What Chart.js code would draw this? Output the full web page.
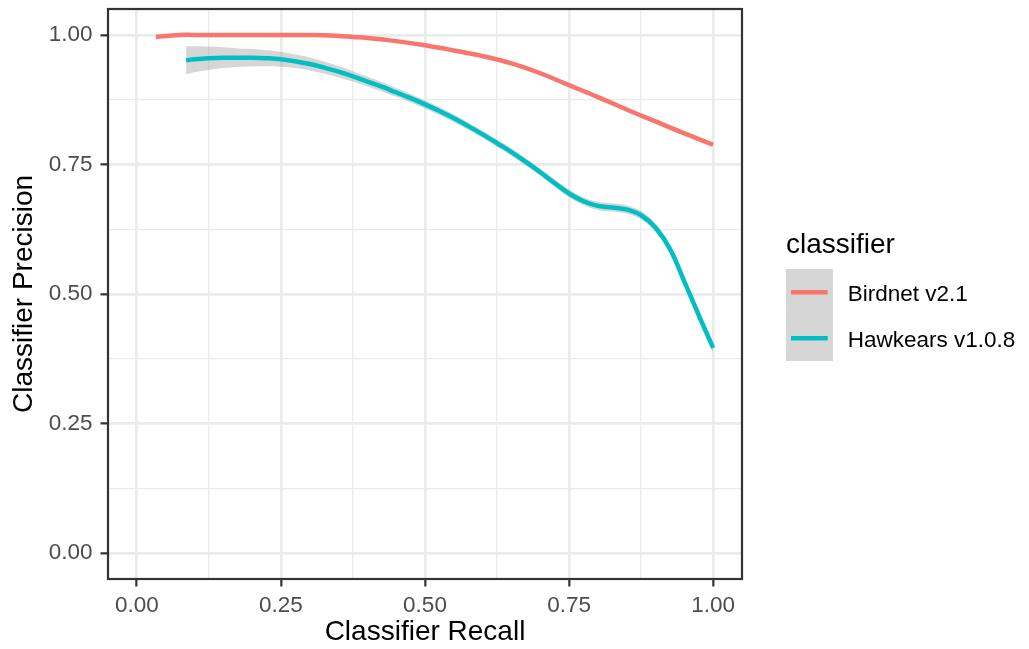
<!DOCTYPE html>
<html>
<head>
<meta charset="utf-8">
<script src="https://cdn.jsdelivr.net/npm/chart.js@4/dist/chart.umd.min.js"></script>
<style>
html,body{margin:0;padding:0;background:#fff;}
#wrap{width:1029px;height:649px;}
</style>
</head>
<body>
<div id="wrap"><canvas id="c" width="1029" height="649"></canvas></div>
<script>
// ---- data ----
const seriesNames = ["Birdnet v2.1", "Hawkears v1.0.8"];
const legendTitle = "classifier";
const xTitle = "Classifier Recall";
const yTitle = "Classifier Precision";

const birdnetRecall    = [0.033, 0.05, 0.075, 0.1, 0.15, 0.2, 0.25, 0.3, 0.325, 0.35, 0.375, 0.4, 0.45, 0.5, 0.55, 0.6, 0.65, 0.7, 0.75, 0.8, 0.85, 0.9, 0.95, 1.0];
const birdnetPrecision = [0.996, 0.998, 1.0, 1.0, 1.0, 1.0, 1.0, 1.0, 0.9995, 0.998, 0.996, 0.994, 0.988, 0.980, 0.970, 0.959, 0.945, 0.926, 0.903, 0.880, 0.856, 0.833, 0.810, 0.788];

const hawkRecall    = [0.0855, 0.1, 0.125, 0.15, 0.175, 0.2, 0.225, 0.25, 0.275, 0.3, 0.325, 0.35, 0.375, 0.4, 0.425, 0.45, 0.475, 0.5, 0.525, 0.55, 0.575, 0.6, 0.625, 0.65, 0.675, 0.7, 0.725, 0.75, 0.775, 0.8, 0.825, 0.85, 0.875, 0.9, 0.925, 0.95, 0.975, 1.0];
const hawkPrecision = [0.951, 0.953, 0.955, 0.956, 0.956, 0.956, 0.955, 0.953, 0.949, 0.944, 0.937, 0.929, 0.920, 0.910, 0.900, 0.889, 0.878, 0.866, 0.853, 0.839, 0.824, 0.808, 0.791, 0.774, 0.755, 0.735, 0.714, 0.694, 0.679, 0.670, 0.667, 0.663, 0.652, 0.628, 0.587, 0.524, 0.459, 0.396];
const hawkBandHalf  = [0.027, 0.025, 0.0225, 0.020, 0.018, 0.017, 0.0155, 0.0144, 0.013, 0.0125, 0.0115, 0.011, 0.010, 0.0095, 0.009, 0.0085, 0.0082, 0.008, 0.0078, 0.0075, 0.0072, 0.007, 0.007, 0.007, 0.007, 0.007, 0.0072, 0.0075, 0.0078, 0.008, 0.008, 0.008, 0.008, 0.008, 0.008, 0.0085, 0.009, 0.010];

const tickValues = [0, 0.125, 0.25, 0.375, 0.5, 0.625, 0.75, 0.875, 1.0];

const colors = ["#F8766D", "#00BFC4"];
const bandColor = "rgba(153,153,153,0.4)";
const FONT = "'Liberation Sans', Arial, Helvetica, sans-serif";

const pts = (xs, ys) => xs.map((x, i) => ({x: x, y: ys[i]}));

const panelBorder = {
  id: 'panelBorder',
  afterDatasetsDraw(chart) {
    const {ctx, chartArea: a} = chart;
    ctx.save();
    ctx.strokeStyle = '#333333';
    ctx.lineWidth = 2.2;
    ctx.strokeRect(a.left, a.top, a.right - a.left, a.bottom - a.top);
    ctx.restore();
  }
};

const ggLegend = {
  id: 'ggLegend',
  afterDraw(chart) {
    const ctx = chart.ctx;
    ctx.save();
    ctx.fillStyle = '#000';
    ctx.textBaseline = 'alphabetic';
    ctx.textAlign = 'left';
    ctx.font = '28px ' + FONT;
    ctx.fillText(legendTitle, 786, 253);
    ctx.fillStyle = bandColor;
    ctx.fillRect(786, 269, 47, 92);
    ctx.lineWidth = 4.5;
    ctx.lineCap = 'butt';
    ctx.font = '22.5px ' + FONT;
    for (let i = 0; i < seriesNames.length; i++) {
      const cy = 292.3 + i * 46;
      ctx.strokeStyle = colors[i];
      ctx.beginPath();
      ctx.moveTo(791, cy);
      ctx.lineTo(827.7, cy);
      ctx.stroke();
      ctx.fillStyle = '#000';
      ctx.fillText(seriesNames[i], 847.7, cy + 8.4);
    }
    ctx.restore();
  }
};

const gridOpts = {
  color: '#EBEBEB',
  lineWidth: (c) => (c.index % 2 === 0 ? 2.7 : 1.3),
  tickColor: (c) => (c.index % 2 === 0 ? '#333333' : 'rgba(0,0,0,0)'),
  tickWidth: 2.2,
  tickLength: 7.5,
  drawTicks: true
};

const tickCb = (v, i) => (i % 2 === 0 ? Number(v).toFixed(2) : '');

new Chart(document.getElementById('c'), {
  type: 'line',
  data: {
    datasets: [
      {label: seriesNames[0], data: pts(birdnetRecall, birdnetPrecision), borderColor: colors[0], borderWidth: 4.5, pointRadius: 0, tension: 0.4, fill: false},
      {label: seriesNames[1], data: pts(hawkRecall, hawkPrecision), borderColor: colors[1], borderWidth: 4.5, pointRadius: 0, tension: 0.4, fill: false},
      {label: 'band upper', data: pts(hawkRecall, hawkPrecision.map((v, i) => v + hawkBandHalf[i])), borderWidth: 0, borderColor: 'rgba(0,0,0,0)', backgroundColor: bandColor, pointRadius: 0, tension: 0.4, fill: '+1'},
      {label: 'band lower', data: pts(hawkRecall, hawkPrecision.map((v, i) => v - hawkBandHalf[i])), borderWidth: 0, borderColor: 'rgba(0,0,0,0)', pointRadius: 0, tension: 0.4, fill: false}
    ]
  },
  options: {
    responsive: false,
    animation: false,
    layout: {padding: {top: 9, right: 287, left: 0, bottom: 0}},
    plugins: {legend: {display: false}, tooltip: {enabled: false}},
    scales: {
      x: {
        type: 'linear', min: -0.05, max: 1.05,
        afterBuildTicks: (s) => { s.ticks = tickValues.map(v => ({value: v})); },
        afterFit: (s) => { s.height = 70; s.paddingLeft = 0; s.paddingRight = 0; },
        grid: gridOpts,
        border: {display: false},
        ticks: {autoSkip: false, maxRotation: 0, padding: 6, color: '#4D4D4D', font: {family: FONT, size: 22.5}, callback: tickCb},
        title: {display: true, text: xTitle, color: '#000', font: {family: FONT, size: 28}, padding: {top: 0, bottom: 0}}
      },
      y: {
        type: 'linear', min: -0.05, max: 1.05,
        afterBuildTicks: (s) => { s.ticks = tickValues.map(v => ({value: v})); },
        afterFit: (s) => { s.width = 108; s.paddingTop = 0; s.paddingBottom = 0; },
        grid: gridOpts,
        border: {display: false},
        ticks: {autoSkip: false, padding: 8, color: '#4D4D4D', font: {family: FONT, size: 22.5}, callback: tickCb},
        title: {display: true, text: yTitle, color: '#000', font: {family: FONT, size: 28}, padding: {top: 7, bottom: 0}}
      }
    }
  },
  plugins: [panelBorder, ggLegend]
});
</script>
</body>
</html>
